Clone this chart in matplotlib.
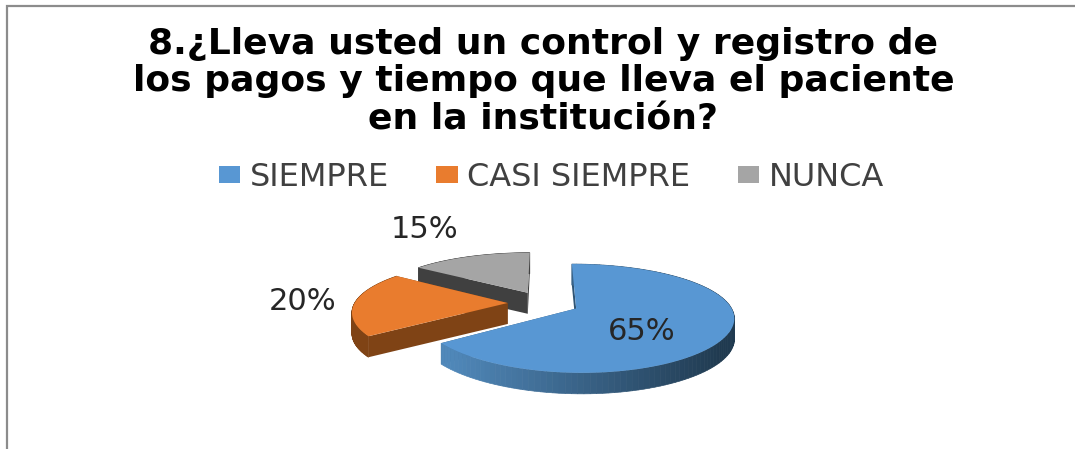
import matplotlib
matplotlib.use('Agg')
import matplotlib.pyplot as plt
import numpy as np
from matplotlib.colors import to_rgb
from matplotlib.patches import Polygon, Patch

title_lines = ['8.¿Lleva usted un control y registro de',
               'los pagos y tiempo que lleva el paciente',
               'en la institución?']
labels = ['SIEMPRE', 'CASI SIEMPRE', 'NUNCA']
values = [65, 20, 15]
pct_labels = ['65%', '20%', '15%']

top_colors = ['#5897d3', '#e97c2e', '#a5a5a5']
side_left = ['#5088ba', '#7f4315', '#404040']
side_right = ['#203a50', '#7f4315', '#404040']
# where the % labels and title lines sit, in pixels
pct_pos = [(642, 332), (303, 302), (425, 229)]
title_pos = [(543, 44), (544, 81), (543, 120)]

# perspective of the tilted pie, fitted by eye
cx, cy = 543.6, 303
A, B = 153, 50.6
kx, ky = 0.15, 0.179
depth = 21


def project(u, v):
    return cx + A * u / (1 + kx * v), cy - B * v / (1 + ky * v)


fig = plt.figure(figsize=(10.75, 4.49), dpi=100)
ax = fig.add_axes([0, 0, 1, 1])
ax.set_xlim(0, 1075)
ax.set_ylim(449, 0)
ax.axis('off')

# let pie work out the wedges, then draw them tilted on the pixel axes
pax = fig.add_axes([0, 0, 0.1, 0.1])
wedges, _ = pax.pie(values, startangle=90, counterclock=False, explode=[0.235] * 3)
pax.set_visible(False)

ax.plot([7, 7, 1075], [449, 6, 6], color='#8c8c8c', lw=1.6, solid_joinstyle='miter')

# back to front
for i in [2, 1, 0]:
    w = wedges[i]
    ox, oy = w.center
    th = np.radians(np.linspace(w.theta1, w.theta2, 121))
    x, y = project(ox + w.r * np.cos(th), oy + w.r * np.sin(th))
    ax0, ay0 = project(ox, oy)

    # cut faces
    for ex, ey in [(x[0], y[0]), (x[-1], y[-1])]:
        ax.add_patch(Polygon([(ax0, ay0), (ex, ey), (ex, ey + depth), (ax0, ay0 + depth)],
                             fc=side_right[i] if i else '#2f5474', ec='none'))

    # rim, coloured left to right
    c0 = np.array(to_rgb(side_left[i]))
    c1 = np.array(to_rgb(side_right[i]))
    for j in range(len(x) - 1):
        t = np.clip((x[j] - 447) / (720 - 447), 0, 1)
        col = c0 + (c1 - c0) * t
        ax.add_patch(Polygon([(x[j], y[j]), (x[j + 1], y[j + 1]),
                              (x[j + 1], y[j + 1] + depth), (x[j], y[j] + depth)],
                             fc=col, ec=col, lw=0.5))

    ax.add_patch(Polygon(np.column_stack([np.r_[ax0, x], np.r_[ay0, y]]), fc=top_colors[i], ec='none'))

for s, (px, py) in zip(pct_labels, pct_pos):
    ax.text(px, py, s, ha='center', va='center', fontsize=22, color='#262626', family='DejaVu Sans')

for s, (px, py) in zip(title_lines, title_pos):
    ax.text(px, py, s, ha='center', va='center', fontsize=26, fontweight='bold', color='black',
            family='DejaVu Sans')

handles = [Patch(fc=c, ec='none') for c in top_colors]
ax.legend(handles, labels, ncol=3, loc='center', bbox_to_anchor=(551.5 / 1075, 1 - 177 / 449),
          frameon=False, labelcolor='#404040', handlelength=0.66, handleheight=0.44,
          handletextpad=0.31, columnspacing=1.47, prop={'family': 'DejaVu Sans', 'size': 23})

fig.savefig('out.png', dpi=100, facecolor='white')
